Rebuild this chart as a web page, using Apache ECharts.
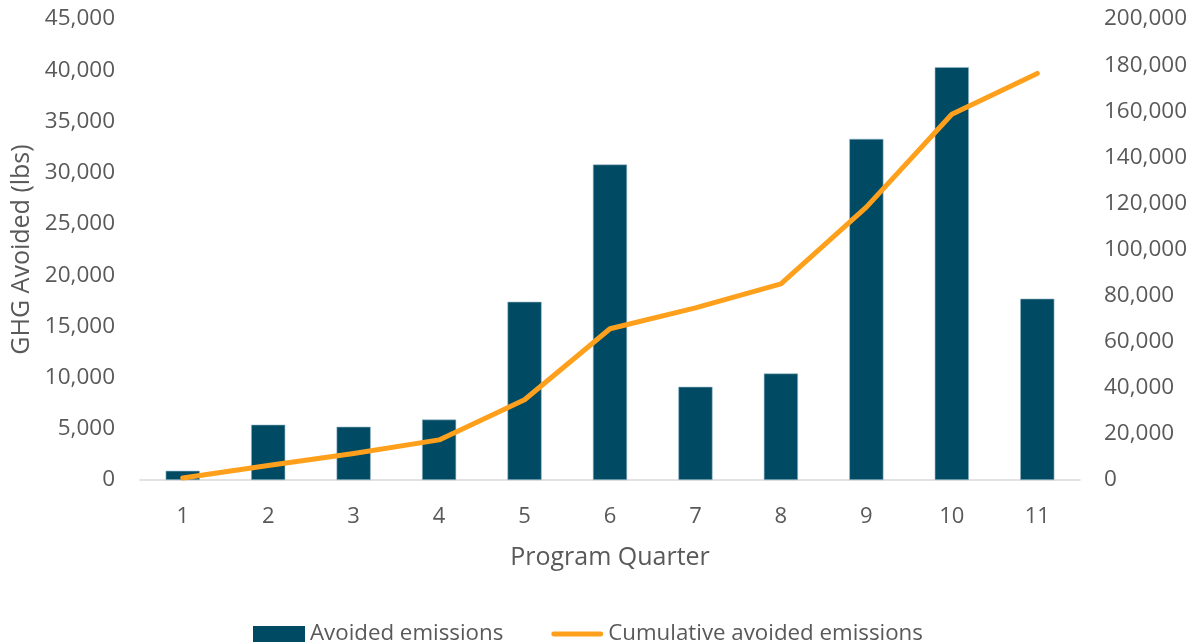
<!DOCTYPE html>
<html>
<head>
<meta charset="utf-8">
<script src="https://cdn.jsdelivr.net/npm/echarts@6/dist/echarts.min.js"></script>
<style>html,body{margin:0;padding:0;background:#fff}#c{width:1198px;height:643px}</style>
</head>
<body>
<div id="c"></div>
<script>
var categories = ['1','2','3','4','5','6','7','8','9','10','11'];
var avoided = [900, 5400, 5200, 5900, 17400, 30800, 9100, 10400, 33300, 40300, 17700];
var cumulative = [900, 6300, 11500, 17400, 34800, 65600, 74700, 85100, 118400, 158700, 176400];

var FONT = '"Open Sans", "Noto Sans", sans-serif';
var chart = echarts.init(document.getElementById('c'));
chart.setOption({
  animation: false,
  textStyle: { fontFamily: FONT },
  grid: { left: 140, right: 118, top: 19, bottom: 163 },
  legend: {
    top: 618,
    left: 248,
    itemGap: 48,
    itemWidth: 52,
    itemHeight: 16,
    textStyle: { fontSize: 22.3, color: '#595959', fontFamily: FONT },
    data: [
      { name: 'Avoided emissions', icon: 'rect', itemStyle: { borderWidth: 0 } },
      { name: 'Cumulative avoided emissions', icon: 'path://M2,0 L50,0 A2.5,2.5 0 0 1 50,5 L2,5 A2.5,2.5 0 0 1 2,0 Z' }
    ]
  },
  xAxis: {
    type: 'category',
    data: categories,
    name: 'Program Quarter',
    nameLocation: 'middle',
    nameGap: 65,
    nameTextStyle: { fontSize: 25, color: '#595959' },
    axisLine: { lineStyle: { color: '#d9d9d9', width: 1.5 } },
    axisTick: { show: false },
    axisLabel: { fontSize: 22, color: '#595959', margin: 26 }
  },
  yAxis: [
    {
      type: 'value', min: 0, max: 45000, interval: 5000,
      name: 'GHG Avoided (lbs)',
      nameLocation: 'middle',
      nameGap: 105,
      nameTextStyle: { fontSize: 25, color: '#595959' },
      splitLine: { show: false },
      axisLine: { show: false },
      axisTick: { show: false },
      axisLabel: { fontSize: 22.5, color: '#595959', margin: 25,
        formatter: function (v) { return v.toLocaleString('en-US'); } }
    },
    {
      type: 'value', min: 0, max: 200000, interval: 20000,
      splitLine: { show: false },
      axisLine: { show: false },
      axisTick: { show: false },
      axisLabel: { fontSize: 22.5, color: '#595959', margin: 24,
        formatter: function (v) { return v.toLocaleString('en-US'); } }
    }
  ],
  series: [
    {
      name: 'Avoided emissions',
      type: 'bar',
      data: avoided,
      barWidth: '40%',
      itemStyle: { color: '#004a63', borderColor: '#9bbccb', borderWidth: 0.6 }
    },
    {
      name: 'Cumulative avoided emissions',
      type: 'line',
      yAxisIndex: 1,
      data: cumulative,
      symbol: 'none',
      lineStyle: { color: '#ffa01c', width: 5, cap: 'round', join: 'round' },
      itemStyle: { color: '#ffa01c' }
    }
  ]
});
</script>
</body>
</html>
